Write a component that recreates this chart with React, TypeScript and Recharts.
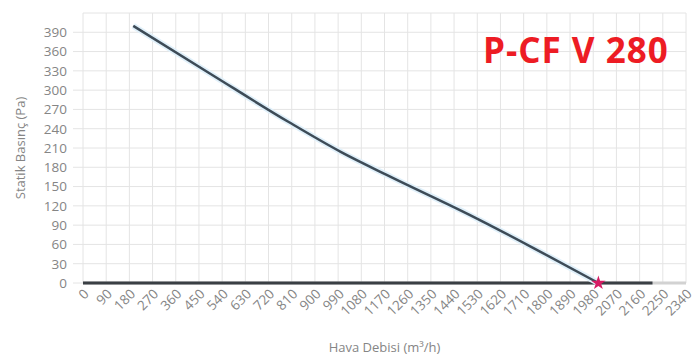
import React from 'react';
import {
  ComposedChart,
  Line,
  Scatter,
  XAxis,
  YAxis,
  CartesianGrid,
  Label,
} from 'recharts';

const flowRates = [195, 500, 800, 1000, 1200, 1500, 1750, 2000];
const pressures = [400, 324, 250, 204, 164, 106, 54, 0];

// dark zero line and the lighter axis extension
const baseFlows = [0, 2210];
const basePressures = [0, 0];
const axisFlows = [0, 2340];
const axisPressures = [0, 0];

const pointFlow = [2000];
const pointPressure = [0];

const xTicks = [
  0, 90, 180, 270, 360, 450, 540, 630, 720, 810, 900, 990, 1080, 1170, 1260,
  1350, 1440, 1530, 1620, 1710, 1800, 1890, 1980, 2070, 2160, 2250, 2340,
];
const yTicks = [0, 30, 60, 90, 120, 150, 180, 210, 240, 270, 300, 330, 360, 390];

const curveData = flowRates.map((q, i) => ({ q, p: pressures[i] }));
const baseData = baseFlows.map((q, i) => ({ q, p: basePressures[i] }));
const axisData = axisFlows.map((q, i) => ({ q, p: axisPressures[i] }));
const pointData = pointFlow.map((q, i) => ({ q, p: pointPressure[i] }));

const FONT = '"Open Sans", sans-serif';
const TICK_COLOR = '#858585';

const YTitle = ({ viewBox }: any) => {
  const cx = 20;
  const cy = viewBox.y + viewBox.height / 2;
  return (
    <text
      x={cx}
      y={cy}
      transform={`rotate(-90 ${cx} ${cy})`}
      textAnchor='middle'
      dominantBaseline='central'
      fill={TICK_COLOR}
      fontSize={13}
      fontFamily={FONT}
    >
      Statik Basınç (Pa)
    </text>
  );
};

const App = () => {
  return (
    <div style={{ position: 'absolute', left: 0, top: 0, width: 700, height: 362, background: '#fff' }}>
      <ComposedChart
        width={700}
        height={362}
        margin={{ top: 13, right: 14, bottom: 0, left: 40 }}
      >
        <CartesianGrid stroke='#e4e4e4' strokeWidth={1} />
        <XAxis
          type='number'
          dataKey='q'
          domain={[0, 2340]}
          ticks={xTicks}
          interval={0}
          height={79}
          angle={-45}
          textAnchor='end'
          tickLine={false}
          tickSize={0}
          tickMargin={5}
          axisLine={false}
          tick={{ fill: TICK_COLOR, fontSize: 13.5, fontFamily: FONT }}
        >
          <Label
            value='Hava Debisi (m³/h)'
            position='insideBottom'
            offset={10}
            fill={TICK_COLOR}
            fontSize={13}
            fontFamily={FONT}
          />
        </XAxis>
        <YAxis
          type='number'
          dataKey='p'
          domain={[0, 420]}
          ticks={yTicks}
          interval={0}
          width={43}
          axisLine={false}
          tickSize={10}
          tickMargin={6}
          tickLine={{ stroke: '#e4e4e4' }}
          tick={{ fill: TICK_COLOR, fontSize: 13.5, fontFamily: FONT }}
        >
          <Label content={YTitle} />
        </YAxis>
        <Line
          data={axisData}
          dataKey='p'
          type='linear'
          stroke='#d2d2d2'
          strokeWidth={3}
          dot={false}
          activeDot={false}
          isAnimationActive={false}
        />
        <Line
          data={baseData}
          dataKey='p'
          type='linear'
          stroke='#3a3f44'
          strokeWidth={3}
          dot={false}
          activeDot={false}
          isAnimationActive={false}
        />
        <Line
          data={curveData}
          dataKey='p'
          type='monotone'
          stroke='#e0f0fa'
          strokeWidth={6}
          dot={false}
          activeDot={false}
          isAnimationActive={false}
        />
        <Line
          data={curveData}
          dataKey='p'
          type='monotone'
          stroke='#3d4b57'
          strokeWidth={2.5}
          dot={false}
          activeDot={false}
          isAnimationActive={false}
        />
        <Scatter
          data={pointData}
          dataKey='p'
          shape='star'
          fill='#d61c63'
          isAnimationActive={false}
        />
      </ComposedChart>
      <div
        style={{
          position: 'absolute',
          left: 483,
          top: 32,
          fontFamily: FONT,
          fontWeight: 700,
          fontSize: 35,
          lineHeight: 1,
          letterSpacing: 1,
          color: '#ed1c24',
          whiteSpace: 'nowrap',
        }}
      >
        P-CF V 280
      </div>
    </div>
  );
};

export default App;
